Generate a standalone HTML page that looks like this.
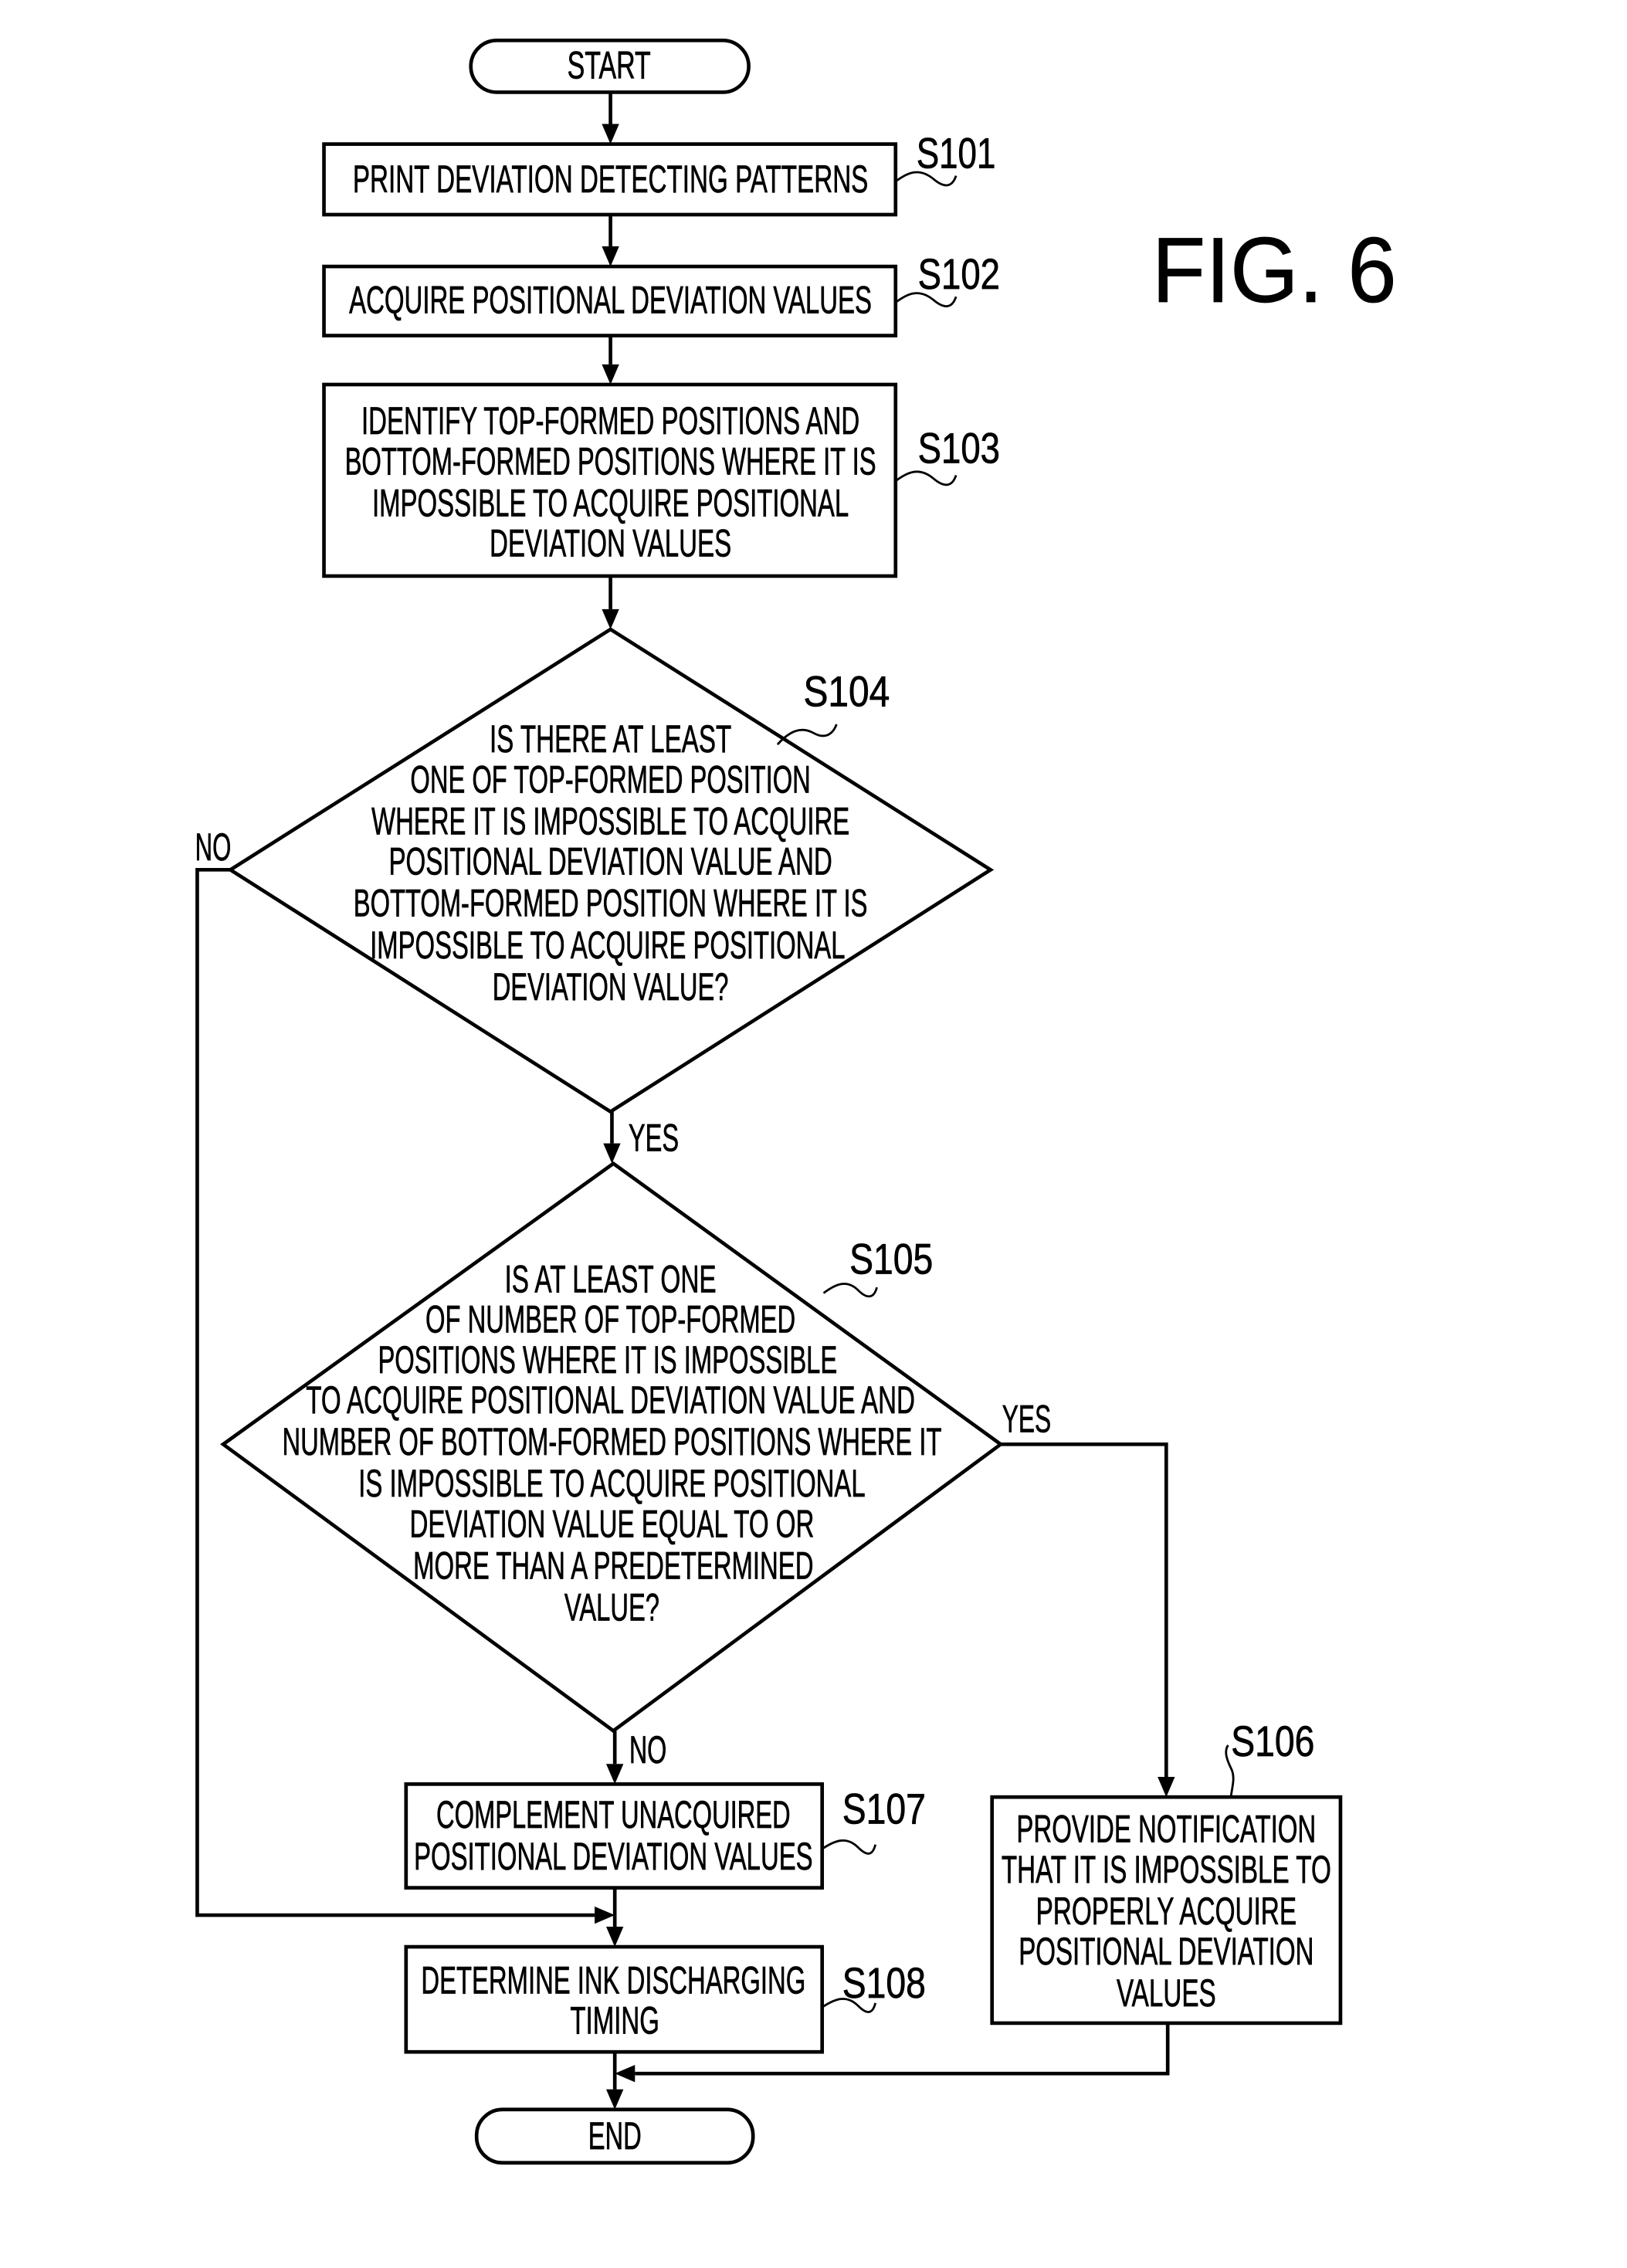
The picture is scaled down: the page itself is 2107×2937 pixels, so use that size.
<!DOCTYPE html>
<html><head><meta charset="utf-8"><style>
html,body{margin:0;padding:0;background:#fff;}
svg{display:block;}
text{font-family:"Liberation Sans",sans-serif;fill:#000;stroke:#000;stroke-width:0.4;}
</style></head><body>
<svg width="2107" height="2937" viewBox="0 0 1130 1575" xmlns="http://www.w3.org/2000/svg">
<g fill="none" stroke="#000" stroke-width="2.5">
<rect x="327" y="28" width="193" height="36" rx="18"/>
<rect x="225" y="100" width="397" height="49"/>
<rect x="225" y="185" width="397" height="48"/>
<rect x="225" y="267" width="397" height="133"/>
<polygon points="424,437 688,604 424,772 160,604"/>
<polygon points="426,808 695,1003 426,1202 155,1003"/>
<rect x="282" y="1239" width="289" height="72"/>
<rect x="282" y="1352" width="289" height="73"/>
<rect x="689" y="1248" width="242" height="157"/>
<rect x="331" y="1465" width="192" height="37" rx="18"/>
<line x1="424" y1="64" x2="424" y2="86"/>
<line x1="424" y1="149" x2="424" y2="171"/>
<line x1="424" y1="233" x2="424" y2="253"/>
<line x1="424" y1="400" x2="424" y2="423"/>
<line x1="425" y1="772" x2="425" y2="794"/>
<line x1="427" y1="1202" x2="427" y2="1225"/>
<line x1="427" y1="1311" x2="427" y2="1338"/>
<line x1="427" y1="1425" x2="427" y2="1451"/>
<polyline points="160,604 137,604 137,1330 413,1330"/>
<polyline points="695,1003 810,1003 810,1234"/>
<polyline points="811,1405 811,1440 441,1440"/>
</g>
<g fill="none" stroke="#000" stroke-width="1.5">
<path d="M622,126 C630,120 638,116 648,124 C655,130 661,131 664,122"/>
<path d="M622,210 C630,204 638,200 648,208 C655,214 661,215 664,206"/>
<path d="M622,334 C630,328 638,324 648,332 C655,338 661,339 664,330"/>
<path d="M540,517 C548,508 556,504 565,509 C572,513 578,511 581,503"/>
<path d="M572,898 C580,892 588,888 596,896 C602,902 607,902 609,894"/>
<path d="M855,1247 C856,1240 858,1234 855,1228 C852,1222 850,1216 853,1212"/>
<path d="M571,1284 C580,1278 588,1275 596,1283 C602,1289 606,1289 608,1281"/>
<path d="M571,1394 C580,1388 588,1385 596,1393 C602,1399 606,1399 608,1391"/>
</g>
<g fill="#000">
<path d="M418,86 L430,86 L424,100 Z"/>
<path d="M418,171 L430,171 L424,185 Z"/>
<path d="M418,253 L430,253 L424,267 Z"/>
<path d="M418,423 L430,423 L424,437 Z"/>
<path d="M419,794 L431,794 L425,808 Z"/>
<path d="M421,1225 L433,1225 L427,1239 Z"/>
<path d="M421,1338 L433,1338 L427,1352 Z"/>
<path d="M421,1451 L433,1451 L427,1465 Z"/>
<path d="M413,1324 L413,1336 L427,1330 Z"/>
<path d="M804,1234 L816,1234 L810,1248 Z"/>
<path d="M441,1434 L441,1446 L427,1440 Z"/>
</g>
<g font-size="27" text-anchor="middle" dominant-baseline="central">
<text x="423" y="45" textLength="58" lengthAdjust="spacingAndGlyphs">START</text>
<text x="424" y="124" textLength="358" lengthAdjust="spacingAndGlyphs">PRINT DEVIATION DETECTING PATTERNS</text>
<text x="424" y="208" textLength="363" lengthAdjust="spacingAndGlyphs">ACQUIRE POSITIONAL DEVIATION VALUES</text>
<text x="424" y="292" textLength="346" lengthAdjust="spacingAndGlyphs">IDENTIFY TOP-FORMED POSITIONS AND</text>
<text x="424" y="320" textLength="369" lengthAdjust="spacingAndGlyphs">BOTTOM-FORMED POSITIONS WHERE IT IS</text>
<text x="424" y="349" textLength="331" lengthAdjust="spacingAndGlyphs">IMPOSSIBLE TO ACQUIRE POSITIONAL</text>
<text x="424" y="377" textLength="168" lengthAdjust="spacingAndGlyphs">DEVIATION VALUES</text>
<text x="424" y="513" textLength="168" lengthAdjust="spacingAndGlyphs">IS THERE AT LEAST</text>
<text x="424" y="541" textLength="278" lengthAdjust="spacingAndGlyphs">ONE OF TOP-FORMED POSITION</text>
<text x="424" y="570" textLength="332" lengthAdjust="spacingAndGlyphs">WHERE IT IS IMPOSSIBLE TO ACQUIRE</text>
<text x="424" y="598" textLength="308" lengthAdjust="spacingAndGlyphs">POSITIONAL DEVIATION VALUE AND</text>
<text x="424" y="627" textLength="357" lengthAdjust="spacingAndGlyphs">BOTTOM-FORMED POSITION WHERE IT IS</text>
<text x="422" y="656" textLength="330" lengthAdjust="spacingAndGlyphs">IMPOSSIBLE TO ACQUIRE POSITIONAL</text>
<text x="424" y="685" textLength="164" lengthAdjust="spacingAndGlyphs">DEVIATION VALUE?</text>
<text x="424" y="888" textLength="147" lengthAdjust="spacingAndGlyphs">IS AT LEAST ONE</text>
<text x="424" y="916" textLength="257" lengthAdjust="spacingAndGlyphs">OF NUMBER OF TOP-FORMED</text>
<text x="422" y="944" textLength="319" lengthAdjust="spacingAndGlyphs">POSITIONS WHERE IT IS IMPOSSIBLE</text>
<text x="424" y="972" textLength="423" lengthAdjust="spacingAndGlyphs">TO ACQUIRE POSITIONAL DEVIATION VALUE AND</text>
<text x="425" y="1001" textLength="458" lengthAdjust="spacingAndGlyphs">NUMBER OF BOTTOM-FORMED POSITIONS WHERE IT</text>
<text x="425" y="1030" textLength="352" lengthAdjust="spacingAndGlyphs">IS IMPOSSIBLE TO ACQUIRE POSITIONAL</text>
<text x="425" y="1058" textLength="281" lengthAdjust="spacingAndGlyphs">DEVIATION VALUE EQUAL TO OR</text>
<text x="426" y="1087" textLength="278" lengthAdjust="spacingAndGlyphs">MORE THAN A PREDETERMINED</text>
<text x="425" y="1116" textLength="66" lengthAdjust="spacingAndGlyphs">VALUE?</text>
<text x="426" y="1260" textLength="246" lengthAdjust="spacingAndGlyphs">COMPLEMENT UNACQUIRED</text>
<text x="426" y="1289" textLength="277" lengthAdjust="spacingAndGlyphs">POSITIONAL DEVIATION VALUES</text>
<text x="426" y="1375" textLength="267" lengthAdjust="spacingAndGlyphs">DETERMINE INK DISCHARGING</text>
<text x="427" y="1403" textLength="62" lengthAdjust="spacingAndGlyphs">TIMING</text>
<text x="810" y="1270" textLength="208" lengthAdjust="spacingAndGlyphs">PROVIDE NOTIFICATION</text>
<text x="810" y="1298" textLength="229" lengthAdjust="spacingAndGlyphs">THAT IT IS IMPOSSIBLE TO</text>
<text x="810" y="1327" textLength="181" lengthAdjust="spacingAndGlyphs">PROPERLY ACQUIRE</text>
<text x="810" y="1355" textLength="205" lengthAdjust="spacingAndGlyphs">POSITIONAL DEVIATION</text>
<text x="810" y="1384" textLength="69" lengthAdjust="spacingAndGlyphs">VALUES</text>
<text x="427" y="1483" textLength="37" lengthAdjust="spacingAndGlyphs">END</text>
<text x="148" y="588" textLength="25" lengthAdjust="spacingAndGlyphs">NO</text>
<text x="454" y="790" textLength="35" lengthAdjust="spacingAndGlyphs">YES</text>
<text x="713" y="985" textLength="34" lengthAdjust="spacingAndGlyphs">YES</text>
<text x="450" y="1215" textLength="26" lengthAdjust="spacingAndGlyphs">NO</text>
</g>
<g font-size="30" text-anchor="middle" dominant-baseline="central">
<text x="664" y="106" textLength="55" lengthAdjust="spacingAndGlyphs">S101</text>
<text x="666" y="190" textLength="57" lengthAdjust="spacingAndGlyphs">S102</text>
<text x="666" y="311" textLength="57" lengthAdjust="spacingAndGlyphs">S103</text>
<text x="588" y="480" textLength="60" lengthAdjust="spacingAndGlyphs">S104</text>
<text x="619" y="874" textLength="58" lengthAdjust="spacingAndGlyphs">S105</text>
<text x="884" y="1209" textLength="58" lengthAdjust="spacingAndGlyphs">S106</text>
<text x="614" y="1256" textLength="58" lengthAdjust="spacingAndGlyphs">S107</text>
<text x="614" y="1377" textLength="58" lengthAdjust="spacingAndGlyphs">S108</text>
</g>
<text x="885" y="188" font-size="64" text-anchor="middle" dominant-baseline="central" textLength="170" lengthAdjust="spacingAndGlyphs">FIG. 6</text>
</svg>
</body></html>
